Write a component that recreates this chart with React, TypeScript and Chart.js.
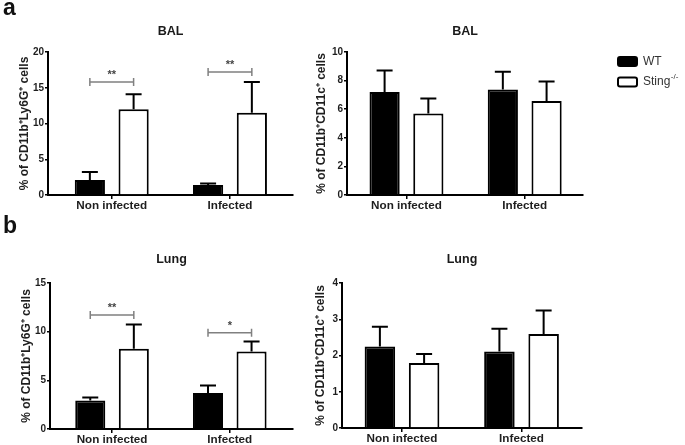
import React, { useEffect, useRef } from "react";
import { Chart, registerables } from "chart.js";

Chart.register(...registerables);

const FONT = "'Liberation Sans', Arial, Helvetica, sans-serif";
Chart.defaults.font.family = FONT;
Chart.defaults.color = "#1e1e1e";

// ---------- data ----------
const categories = ["Non infected", "Infected"];
const seriesNames = ["WT", "Sting"];
const seriesSup = ["", "-/-"];

// a) BAL, % of CD11b+Ly6G+ cells
const balLy6gWT = [2.1, 1.4];
const balLy6gWTErr = [1.1, 0.2];
const balLy6gKO = [12.0, 11.5];
const balLy6gKOErr = [2.1, 4.3];
const balLy6gSig = [
  { cat: 0, y: 15.8, text: "**" },
  { cat: 1, y: 17.2, text: "**" },
];

// a) BAL, % of CD11b+CD11c+ cells
const balCd11cWT = [7.2, 7.37];
const balCd11cWTErr = [1.5, 1.25];
const balCd11cKO = [5.7, 6.58];
const balCd11cKOErr = [1.05, 1.35];

// b) Lung, % of CD11b+Ly6G+ cells
const lungLy6gWT = [2.94, 3.7];
const lungLy6gWTErr = [0.3, 0.78];
const lungLy6gKO = [8.24, 7.97];
const lungLy6gKOErr = [2.5, 1.03];
const lungLy6gSig = [
  { cat: 0, y: 11.7, text: "**" },
  { cat: 1, y: 9.9, text: "*" },
];

// b) Lung, % of CD11b+CD11c+ cells
const lungCd11cWT = [2.25, 2.11];
const lungCd11cWTErr = [0.54, 0.63];
const lungCd11cKO = [1.79, 2.59];
const lungCd11cKOErr = [0.25, 0.65];

// y tick ranges
const yRanges = [
  { max: 20, step: 5 },
  { max: 10, step: 2 },
  { max: 15, step: 5 },
  { max: 4, step: 1 },
];

type Bracket = { cat: number; y: number; text: string };
type Panel = {
  left: number;
  top: number;
  width: number;
  height: number;
  title: string;
  yTitle: string;
  yMax: number;
  yStep: number;
  wt: number[];
  wtErr: number[];
  ko: number[];
  koErr: number[];
  brackets: Bracket[];
  xMin: number;
  xMax: number;
  yWidth: number;
  xHeight: number;
  padRight: number;
  titleTop: number;
  titleBottom: number;
  yTitlePad: number;
  legend: boolean;
};

const panels: Panel[] = [
  {
    left: 0, top: 0, width: 300, height: 220,
    title: "BAL", yTitle: "% of CD11b\u207ALy6G\u207A cells",
    yMax: yRanges[0].max, yStep: yRanges[0].step,
    wt: balLy6gWT, wtErr: balLy6gWTErr, ko: balLy6gKO, koErr: balLy6gKOErr,
    brackets: balLy6gSig,
    xMin: -0.039, xMax: 2.033,
    yWidth: 48, xHeight: 25, padRight: 7,
    titleTop: 24.5, titleBottom: 12.5, yTitlePad: 17.8, legend: false,
  },
  {
    left: 300, top: 0, width: 385, height: 220,
    title: "BAL", yTitle: "% of CD11b\u207ACD11c\u207A cells",
    yMax: yRanges[1].max, yStep: yRanges[1].step,
    wt: balCd11cWT, wtErr: balCd11cWTErr, ko: balCd11cKO, koErr: balCd11cKOErr,
    brackets: [],
    xMin: -0.003, xMax: 1.993,
    yWidth: 47, xHeight: 25, padRight: 102,
    titleTop: 24.5, titleBottom: 12.5, yTitlePad: 14.8, legend: true,
  },
  {
    left: 0, top: 220, width: 300, height: 225,
    title: "Lung", yTitle: "% of CD11b\u207ALy6G\u207A cells",
    yMax: yRanges[2].max, yStep: yRanges[2].step,
    wt: lungLy6gWT, wtErr: lungLy6gWTErr, ko: lungLy6gKO, koErr: lungLy6gKOErr,
    brackets: lungLy6gSig,
    xMin: -0.027, xMax: 2.037,
    yWidth: 50, xHeight: 16, padRight: 7,
    titleTop: 32.5, titleBottom: 15.5, yTitlePad: 19.3, legend: false,
  },
  {
    left: 300, top: 220, width: 385, height: 225,
    title: "Lung", yTitle: "% of CD11b\u207ACD11c\u207A cells",
    yMax: yRanges[3].max, yStep: yRanges[3].step,
    wt: lungCd11cWT, wtErr: lungCd11cWTErr, ko: lungCd11cKO, koErr: lungCd11cKOErr,
    brackets: [],
    xMin: -0.002, xMax: 2.006,
    yWidth: 42, xHeight: 17, padRight: 103,
    titleTop: 32.5, titleBottom: 15.5, yTitlePad: 13.8, legend: false,
  },
];

function PanelChart({ p }: { p: Panel }) {
  const ref = useRef<HTMLCanvasElement>(null);

  useEffect(() => {
    if (!ref.current) return;

    const overlay = {
      id: "overlay",
      afterDatasetsDraw(chart: any) {
        const ctx = chart.ctx;
        const ys = chart.scales.y;
        const vals = [p.wt, p.ko];
        const errs = [p.wtErr, p.koErr];
        ctx.save();
        // error bars (upper only)
        ctx.strokeStyle = "#000";
        ctx.lineWidth = 2;
        for (let d = 0; d < 2; d++) {
          const meta = chart.getDatasetMeta(d);
          meta.data.forEach((el: any, i: number) => {
            const yTop = ys.getPixelForValue(vals[d][i] + errs[d][i]);
            ctx.beginPath();
            ctx.moveTo(el.x, el.y);
            ctx.lineTo(el.x, yTop);
            ctx.moveTo(el.x - 8, yTop);
            ctx.lineTo(el.x + 8, yTop);
            ctx.stroke();
          });
        }
        // significance brackets
        p.brackets.forEach((b) => {
          const x1 = chart.getDatasetMeta(0).data[b.cat].x;
          const x2 = chart.getDatasetMeta(1).data[b.cat].x;
          const y = ys.getPixelForValue(b.y);
          ctx.strokeStyle = "#808080";
          ctx.lineWidth = 1.5;
          ctx.beginPath();
          ctx.moveTo(x1, y);
          ctx.lineTo(x2, y);
          ctx.moveTo(x1, y - 4);
          ctx.lineTo(x1, y + 4);
          ctx.moveTo(x2, y - 4);
          ctx.lineTo(x2, y + 4);
          ctx.stroke();
          ctx.fillStyle = "#444";
          ctx.font = `bold 11px ${FONT}`;
          ctx.textAlign = "center";
          ctx.textBaseline = "alphabetic";
          ctx.fillText(b.text, (x1 + x2) / 2, y - 4);
        });
        ctx.restore();
      },
      afterDraw(chart: any) {
        if (!p.legend) return;
        const { ctx, chartArea } = chart;
        ctx.save();
        chart.data.datasets.forEach((ds: any, d: number) => {
          const x = chartArea.right + 35;
          const y = chartArea.top + 5 + d * 20.5;
          ctx.fillStyle = ds.backgroundColor;
          ctx.strokeStyle = "#000";
          ctx.lineWidth = 2;
          ctx.beginPath();
          (ctx as any).roundRect(x, y, 19, 9, 2);
          ctx.fill();
          ctx.stroke();
          ctx.fillStyle = "#333";
          ctx.font = `12px ${FONT}`;
          ctx.textAlign = "left";
          ctx.textBaseline = "middle";
          ctx.fillText(seriesNames[d], x + 25, y + 4.5);
          if (seriesSup[d]) {
            const w = ctx.measureText(seriesNames[d]).width;
            ctx.font = `8px ${FONT}`;
            ctx.fillText(seriesSup[d], x + 25 + w + 0.5, y - 0.5);
          }
        });
        ctx.restore();
      },
    };

    const chart = new Chart(ref.current, {
      type: "bar",
      data: {
        datasets: [
          {
            label: seriesNames[0],
            data: p.wt.map((v, i) => ({ x: i + 0.5, y: v })),
            backgroundColor: "#000",
            borderColor: "#000",
            borderWidth: 2,
          },
          {
            label: seriesNames[1] + seriesSup[1],
            data: p.ko.map((v, i) => ({ x: i + 0.5, y: v })),
            backgroundColor: "#fff",
            borderColor: "#000",
            borderWidth: 2,
          },
        ],
      } as any,
      options: {
        animation: false,
        responsive: false,
        events: [],
        datasets: {
          bar: { categoryPercentage: 0.74, barPercentage: 0.69 },
        } as any,
        layout: { padding: { left: 0, right: p.padRight, top: 0, bottom: 0 } },
        plugins: {
          legend: { display: false },
          tooltip: { enabled: false },
          title: {
            display: true,
            text: p.title,
            fullSize: false,
            color: "#1a1a1a",
            font: { size: 12.5, weight: "bold", family: FONT, lineHeight: 1.2 },
            padding: { top: p.titleTop, bottom: p.titleBottom },
          },
        },
        scales: {
          x: {
            type: "linear",
            offset: false,
            min: p.xMin,
            max: p.xMax,
            afterBuildTicks: (s: any) => {
              s.ticks = categories.map((_, i) => ({ value: i + 0.5 }));
            },
            afterFit: (s: any) => {
              s.height = p.xHeight;
            },
            ticks: {
              callback: (_v: any, i: number) => categories[i],
              font: { size: 11.7, weight: "bold", family: FONT },
              color: "#1e1e1e",
              padding: 0,
              maxRotation: 0,
              autoSkip: false,
            },
            grid: {
              offset: false,
              drawOnChartArea: false,
              drawTicks: true,
              tickLength: 4,
              color: "#000",
              lineWidth: 1.5,
            },
            border: { display: true, color: "#000", width: 2 },
          },
          y: {
            min: 0,
            max: p.yMax,
            afterFit: (s: any) => {
              s.width = p.yWidth;
            },
            ticks: {
              stepSize: p.yStep,
              font: { size: 10, weight: "bold", family: FONT },
              color: "#1e1e1e",
              padding: 1,
            },
            grid: {
              drawOnChartArea: false,
              drawTicks: true,
              tickLength: 3,
              color: "#000",
              lineWidth: 1.5,
            },
            border: { display: true, color: "#000", width: 2 },
            title: {
              display: true,
              text: p.yTitle,
              color: "#1e1e1e",
              font: { size: 12, weight: "bold", family: FONT, lineHeight: 1.2 },
              padding: { top: p.yTitlePad, bottom: 0 },
            },
          },
        },
      } as any,
      plugins: [overlay],
    });

    return () => chart.destroy();
  }, [p]);

  return (
    <div
      style={{
        position: "absolute",
        left: p.left,
        top: p.top,
        width: p.width,
        height: p.height,
      }}
    >
      <canvas ref={ref} width={p.width} height={p.height} />
    </div>
  );
}

const letterStyle: React.CSSProperties = {
  position: "absolute",
  fontFamily: FONT,
  fontWeight: "bold",
  fontSize: 23,
  lineHeight: "23px",
  color: "#111",
};

export default function App() {
  return (
    <div
      style={{
        position: "absolute",
        left: 0,
        top: 0,
        width: 685,
        height: 445,
        background: "#fff",
        overflow: "hidden",
      }}
    >
      {panels.map((p, i) => (
        <PanelChart key={i} p={p} />
      ))}
      <div style={{ ...letterStyle, left: 3, top: -4.5 }}>a</div>
      <div style={{ ...letterStyle, left: 3, top: 213.5 }}>b</div>
    </div>
  );
}
